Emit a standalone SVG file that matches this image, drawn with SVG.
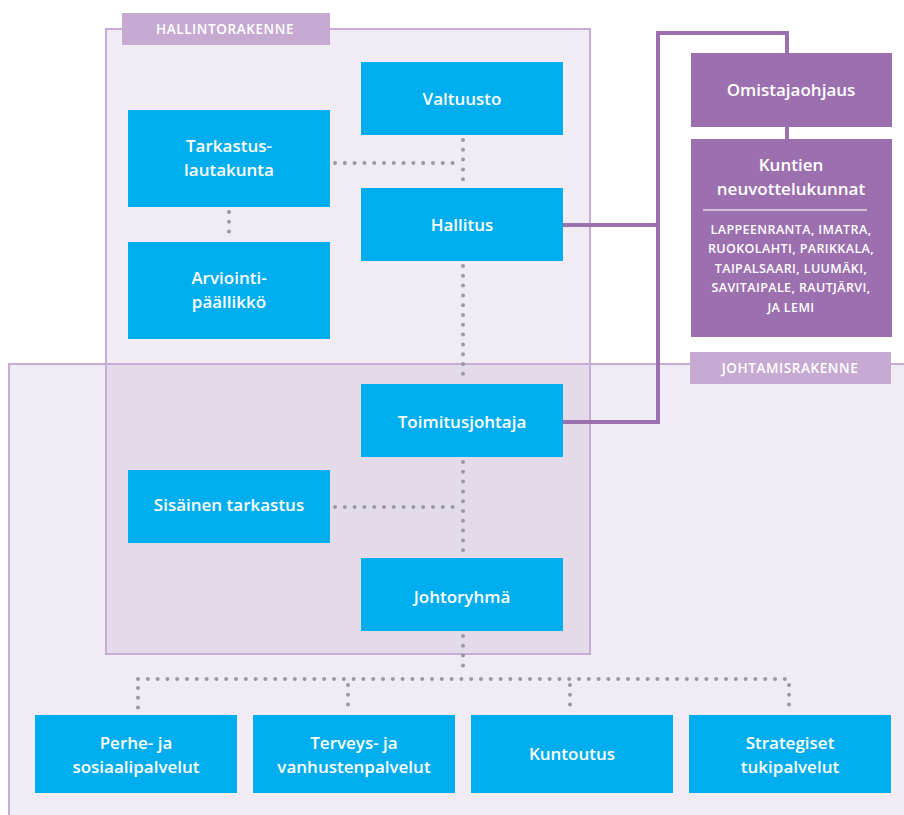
<svg xmlns="http://www.w3.org/2000/svg" width="904" height="815" viewBox="0 0 904 815">
<style>
.area{fill:#f1ebf4}
.overlap{fill:#e4dbea}
.frame{fill:none;stroke:#c8abd6;stroke-width:2}
.tag{fill:#c6aad2}
.tagt{fill:#fff;font-family:"Open Sans","DejaVu Sans",sans-serif;font-size:13.5px;font-weight:600;text-anchor:middle;letter-spacing:0.6px}
.blue{fill:#00aeef}
.purple{fill:#9c70ae}
.t{fill:#fff;font-family:"Open Sans","Liberation Sans",sans-serif;font-size:17px;font-weight:600;text-anchor:middle}
.s{fill:#fff;font-family:"Open Sans","Liberation Sans",sans-serif;font-size:12.5px;font-weight:600;text-anchor:middle;letter-spacing:0.4px}
.dot{fill:none;stroke:#9a9a9e;stroke-width:4;stroke-linecap:round;stroke-dasharray:0 9.8}
.pl{fill:none;stroke:#9c70ae;stroke-width:4}
</style>
<rect width="904" height="815" fill="#fff"/>
<g id="areas">
<rect class="area" x="106" y="29" width="484" height="625"/>
<rect class="area" x="9" y="364" width="900" height="460"/>
<rect class="overlap" x="106" y="364" width="484" height="290"/>
<rect class="frame" x="106" y="29" width="484" height="625"/>
<rect class="frame" x="9" y="364" width="900" height="460"/>
</g>
<g id="label-hallinto">
<rect class="tag" x="122" y="13" width="208" height="32"/>
<text class="tagt" x="225" y="34">HALLINTORAKENNE</text>
</g>
<g id="label-johtamis">
<rect class="tag" x="690" y="352" width="201" height="32"/>
<text class="tagt" x="790" y="373">JOHTAMISRAKENNE</text>
</g>
<g id="connectors">
<path class="dot" d="M463 140V184"/>
<path class="dot" d="M335 163H458"/>
<path class="dot" d="M229 212V238"/>
<path class="dot" d="M463 266V380"/>
<path class="dot" d="M463 462V554"/>
<path class="dot" d="M335 507H458"/>
<path class="dot" d="M463 636V666"/>
<path class="dot" d="M138 679H794"/>
<path class="dot" d="M138 688V708"/>
<path class="dot" d="M348 685V708"/>
<path class="dot" d="M570 685V708"/>
<path class="dot" d="M789 685V708"/>
<path class="pl" d="M563 225H658V33H787V53"/>
<path class="pl" d="M563 422H658V225"/>
<path class="pl" d="M787 126V139"/>
</g>
<g id="valtuusto"><rect class="blue" x="361" y="62" width="202" height="73"/><text class="t" x="462" y="105">Valtuusto</text></g>
<g id="tarkastuslautakunta"><rect class="blue" x="128" y="110" width="202" height="97"/><text class="t" x="229" y="152">Tarkastus-</text><text class="t" x="229" y="176">lautakunta</text></g>
<g id="hallitus"><rect class="blue" x="361" y="188" width="202" height="73"/><text class="t" x="462" y="231">Hallitus</text></g>
<g id="arviointipaallikko"><rect class="blue" x="128" y="242" width="202" height="97"/><text class="t" x="229" y="284">Arviointi-</text><text class="t" x="229" y="308">päällikkö</text></g>
<g id="toimitusjohtaja"><rect class="blue" x="361" y="384" width="202" height="73"/><text class="t" x="462" y="428">Toimitusjohtaja</text></g>
<g id="sisainen"><rect class="blue" x="128" y="470" width="202" height="73"/><text class="t" x="229" y="511">Sisäinen tarkastus</text></g>
<g id="johtoryhma"><rect class="blue" x="361" y="558" width="202" height="73"/><text class="t" x="462" y="603">Johtoryhmä</text></g>
<g id="perhe"><rect class="blue" x="35" y="715" width="202" height="78"/><text class="t" x="136" y="749">Perhe- ja</text><text class="t" x="136" y="773">sosiaalipalvelut</text></g>
<g id="terveys"><rect class="blue" x="253" y="715" width="202" height="78"/><text class="t" x="354" y="749">Terveys- ja</text><text class="t" x="354" y="773">vanhustenpalvelut</text></g>
<g id="kuntoutus"><rect class="blue" x="471" y="715" width="202" height="78"/><text class="t" x="572" y="760">Kuntoutus</text></g>
<g id="strategiset"><rect class="blue" x="689" y="715" width="202" height="78"/><text class="t" x="790" y="749">Strategiset</text><text class="t" x="790" y="773">tukipalvelut</text></g>
<g id="omistajaohjaus"><rect class="purple" x="691" y="53" width="201" height="74"/><text class="t" x="791" y="96">Omistajaohjaus</text></g>
<g id="kuntien"><rect class="purple" x="691" y="139" width="201" height="198"/><text class="t" x="791" y="171">Kuntien</text><text class="t" x="791" y="195">neuvottelukunnat</text>
<line x1="703" y1="210" x2="867" y2="210" stroke="#e6d8ee" stroke-width="1.5"/>
<text class="s" x="791" y="234">LAPPEENRANTA, IMATRA,</text>
<text class="s" x="791" y="253">RUOKOLAHTI, PARIKKALA,</text>
<text class="s" x="791" y="273">TAIPALSAARI, LUUMÄKI,</text>
<text class="s" x="791" y="292">SAVITAIPALE, RAUTJÄRVI,</text>
<text class="s" x="791" y="312">JA LEMI</text></g>
</svg>
